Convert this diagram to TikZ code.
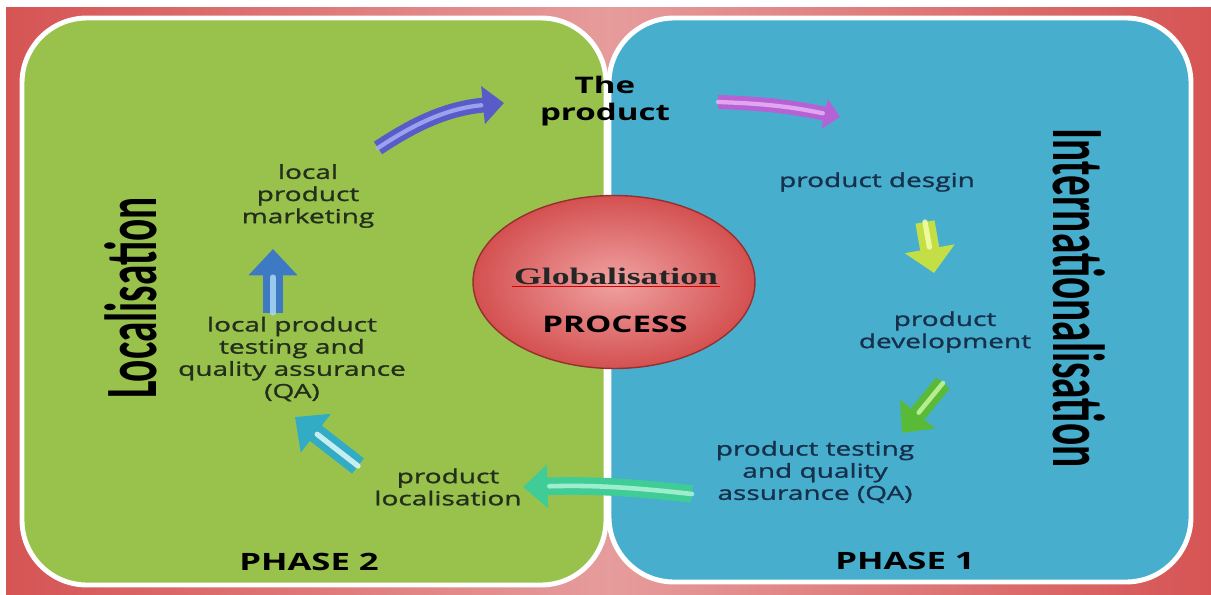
\documentclass[tikz,border=0pt]{standalone}
\usepackage{fontspec}
\usetikzlibrary{positioning,shapes.geometric,arrows.meta}

\newfontfamily\labelfont[FakeStretch=1.45]{Open Sans}
\newfontfamily\stepfont[FakeStretch=1.45,FakeBold=1.2]{Open Sans}
\newfontfamily\titlefont[FakeStretch=0.56]{Carlito}
\newfontfamily\globfont[FakeStretch=1.5]{Liberation Serif}

\definecolor{bgred}{RGB}{214,84,84}
\definecolor{bgpink}{RGB}{230,156,156}
\definecolor{locgreen}{RGB}{152,194,76}
\definecolor{intblue}{RGB}{72,174,206}
\definecolor{leftink}{RGB}{36,46,28}
\definecolor{rightink}{RGB}{22,48,74}
\definecolor{ballin}{RGB}{240,162,162}
\definecolor{ballout}{RGB}{212,80,80}
\definecolor{ballrim}{RGB}{150,48,48}
% arrow colours, body and shine
\definecolor{indigo}{RGB}{88,92,200}   \definecolor{indigoLt}{RGB}{170,172,245}
\definecolor{violet}{RGB}{182,98,212}  \definecolor{violetLt}{RGB}{232,180,245}
\definecolor{lime}{RGB}{196,222,70}    \definecolor{limeLt}{RGB}{245,255,170}
\definecolor{leaf}{RGB}{88,186,54}     \definecolor{leafLt}{RGB}{200,245,160}
\definecolor{sea}{RGB}{64,204,150}     \definecolor{seaLt}{RGB}{175,245,215}
\definecolor{teal}{RGB}{50,172,196}    \definecolor{tealLt}{RGB}{225,250,250}
\definecolor{azure}{RGB}{62,122,196}   \definecolor{azureLt}{RGB}{170,215,245}

\tikzset{
  panel/.style={draw=white, line width=2.8pt, rounded corners=1.3cm},
  steplabel/.style={font=\stepfont\fontsize{11}{12.6}\selectfont, align=center, inner sep=1pt},
  phaselabel/.style={font=\labelfont\bfseries\fontsize{13.6}{16}\selectfont},
  sidetitle/.style={font=\titlefont\bfseries\fontsize{42}{42}\selectfont},
  flow/.style={line width=#1, line cap=butt},
  shine/.style={line width=#1, line cap=round, opacity=0.85},
}

\begin{document}
\begin{tikzpicture}[x=0.02cm, y=-0.02cm]
  \useasboundingbox (0,0) rectangle (1211,595);
  \fill[white] (0,0) rectangle (1211,595);
  \shade[left color=bgred, right color=bgred, middle color=bgpink] (6,7) rectangle (1211,595);

  % the two phases
  \fill[locgreen, panel] (22,18) rectangle (606,585);
  \fill[intblue, panel] (609,18) rectangle (1191,582);

  \node[sidetitle, rotate=90] (loc) at (131,298) {Localisation};
  \node[sidetitle, rotate=-90] (intl) at (1079,298) {Internationalisation};

  \node[phaselabel] (ph2) at (309,562) {PHASE 2};
  \node[phaselabel] (ph1) at (905,561) {PHASE 1};

  % centre ball
  \node[ellipse, draw=ballrim, line width=0.8pt, shading=radial, inner color=ballin, outer color=ballout,
        minimum width=5.64cm, minimum height=3.46cm] (glob) at (614,282) {};
  \node[font=\globfont\bfseries\fontsize{13.5}{15}\selectfont, text=black!85, inner sep=1pt] (globtxt) at (616,276) {Globalisation};
  \node[font=\labelfont\bfseries\fontsize{13}{15}\selectfont, inner sep=1pt] (proc) at (615,324) {PROCESS};
  \draw[red!85!black, line width=0.5pt] (globtxt.south west) -- (globtxt.south east);

  % cycle steps
  \node[font=\labelfont\bfseries\fontsize{13}{15.3}\selectfont, align=center, inner sep=1pt] (prod) at (605,101) {The\\product};
  \node[steplabel, text=rightink] (pdes) at (877,182) {product desgin};
  \node[steplabel, text=rightink] (pdev) at (945,332) {product\\development};
  \node[steplabel, text=rightink] (pqa) at (815,472) {product testing\\and quality\\assurance (QA)};
  \node[steplabel, text=leftink] (ploc) at (448,487) {product\\localisation};
  \node[steplabel, text=leftink] (lqa) at (292,359) {local product\\testing and\\quality assurance\\(QA)};
  \node[steplabel, text=leftink] (mkt) at (308,196) {local\\product\\marketing};

  % arrow ends
  \coordinate (mkt-out) at (378,148);  \coordinate (prod-in) at (504,103);
  \coordinate (prod-out) at (718,102); \coordinate (des-in) at (840,117);
  \coordinate (des-out) at (925,222);  \coordinate (dev-in) at (934,273);
  \coordinate (dev-out) at (943,383);  \coordinate (qa-in) at (902,433);
  \coordinate (qa-out) at (692,494);   \coordinate (loc-in) at (523,487);
  \coordinate (loc-out) at (358,466);  \coordinate (lqa-in) at (295,417);
  \coordinate (lqa-out) at (273,313);  \coordinate (mkt-in) at (273,249);

  \draw[flow=8.5pt, indigo, -{Triangle[width=21pt,length=12pt]}] (mkt-out) to[bend left=14] (prod-in);
  \draw[shine=2.4pt, indigoLt, shorten >=13pt] (mkt-out) to[bend left=14] (prod-in);

  \draw[flow=8pt, violet, -{Triangle[width=17pt,length=9pt]}] (prod-out) to[bend left=5] (des-in);
  \draw[shine=2.4pt, violetLt, shorten >=10pt] (prod-out) to[bend left=5] (des-in);

  \draw[flow=11pt, lime, -{Triangle[width=28pt,length=14pt]}] (des-out) -- (dev-in);
  \draw[shine=3pt, limeLt, shorten >=15pt] (des-out) -- (dev-in);

  \draw[flow=10pt, leaf, -{Triangle[width=25pt,length=14pt]}] (dev-out) -- (qa-in);
  \draw[shine=2.6pt, leafLt, shorten >=15pt] (dev-out) -- (qa-in);

  \draw[flow=10pt, sea, -{Triangle[width=24pt,length=14pt]}] (qa-out) to[bend right=4] (loc-in);
  \draw[shine=2.6pt, seaLt, shorten >=15pt] (qa-out) to[bend right=4] (loc-in);

  \draw[flow=11pt, teal, -{Triangle[width=27pt,length=15pt]}] (loc-out) -- (lqa-in);
  \draw[shine=3pt, tealLt, shorten >=16pt] (loc-out) -- (lqa-in);

  \draw[flow=11pt, azure, -{Triangle[width=27pt,length=15pt]}] (lqa-out) -- (mkt-in);
  \draw[shine=3pt, azureLt, shorten >=16pt] (lqa-out) -- (mkt-in);
\end{tikzpicture}
\end{document}
